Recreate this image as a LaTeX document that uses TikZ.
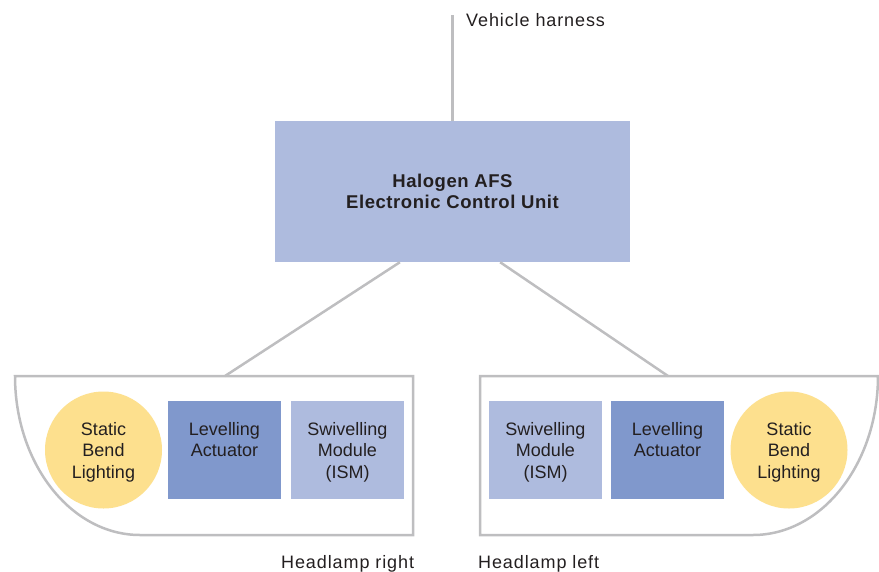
\documentclass[tikz,border=0pt]{standalone}
\usepackage{fontspec}
\setmainfont{Liberation Sans}
\newfontfamily\trackfont[LetterSpace=5]{Liberation Sans}
\newfontfamily\boldtrack[LetterSpace=3]{Liberation Sans Bold}
\usetikzlibrary{calc}
\definecolor{ecublue}{RGB}{174,187,222}
\definecolor{darkblue}{RGB}{128,152,204}
\definecolor{lampyellow}{RGB}{253,224,142}
\definecolor{linegray}{RGB}{190,190,192}
\definecolor{txt}{RGB}{35,31,32}
\tikzset{
  conn/.style={draw=linegray, line width=2.5pt},
  lampbox/.style={draw=linegray, line width=2.5pt, fill=white},
  ecubox/.style={fill=ecublue, minimum width=355pt, minimum height=141pt, inner sep=0pt,
    align=center, text=txt, font=\boldtrack\fontsize{18.5}{21.5}\selectfont},
  inner3/.style={align=center, text=txt, font=\fontsize{18}{21.5}\selectfont,
    text height=56pt, text depth=0pt},
  unitbox/.style={inner3, minimum width=113pt, minimum height=98pt, inner sep=0pt},
  levbox/.style={unitbox, fill=darkblue},
  swivbox/.style={unitbox, fill=ecublue},
  sbl/.style={inner3, circle, fill=lampyellow, minimum size=117pt, inner sep=0pt},
  label/.style={text=txt, font=\trackfont\fontsize{18}{21}\selectfont, inner sep=0pt}
}
\begin{document}
\begin{tikzpicture}[x=1pt,y=-1pt]
\useasboundingbox (0,0) rectangle (879,571);
% headlamp housings
\path[lampbox] (15,376) -- (413,376) -- (413,535) -- (140,535)
  .. controls (71,535) and (15,463.8) .. (15,376) -- cycle;
\path[lampbox] (480,376) -- (878,376) .. controls (878,463.8) and (822,535) .. (753,535)
  -- (480,535) -- cycle;
\coordinate (lampR) at (225,376);
\coordinate (lampL) at (668,376);
\coordinate (harness) at (452.5,15);
% ECU
\node[ecubox] (ecu) at (452.5,191.5) {Halogen AFS\\Electronic Control Unit};
% connectors
\draw[conn] (harness) -- (ecu.north);
\draw[conn] ($(ecu.south west)!0.352!(ecu.south east)$) -- (lampR);
\draw[conn] ($(ecu.south west)!0.634!(ecu.south east)$) -- (lampL);
% right headlamp (left in picture)
\node[sbl] (sblR) at (103.5,450) {Static\\Bend\\Lighting};
\node[levbox] (levR) at (224.5,450) {Levelling\\Actuator\\\mbox{}};
\node[swivbox] (swiR) at (347.5,450) {Swivelling\\Module\\(ISM)};
% left headlamp (right in picture)
\node[swivbox] (swiL) at (545.5,450) {Swivelling\\Module\\(ISM)};
\node[levbox] (levL) at (667.5,450) {Levelling\\Actuator\\\mbox{}};
\node[sbl] (sblL) at (789,450) {Static\\Bend\\Lighting};
% labels
\node[label, anchor=base west] (vh) at (466,26) {Vehicle harness};
\node[label, anchor=base west] (hr) at (281,568) {Headlamp right};
\node[label, anchor=base west] (hl) at (478,568) {Headlamp left};
\end{tikzpicture}
\end{document}
